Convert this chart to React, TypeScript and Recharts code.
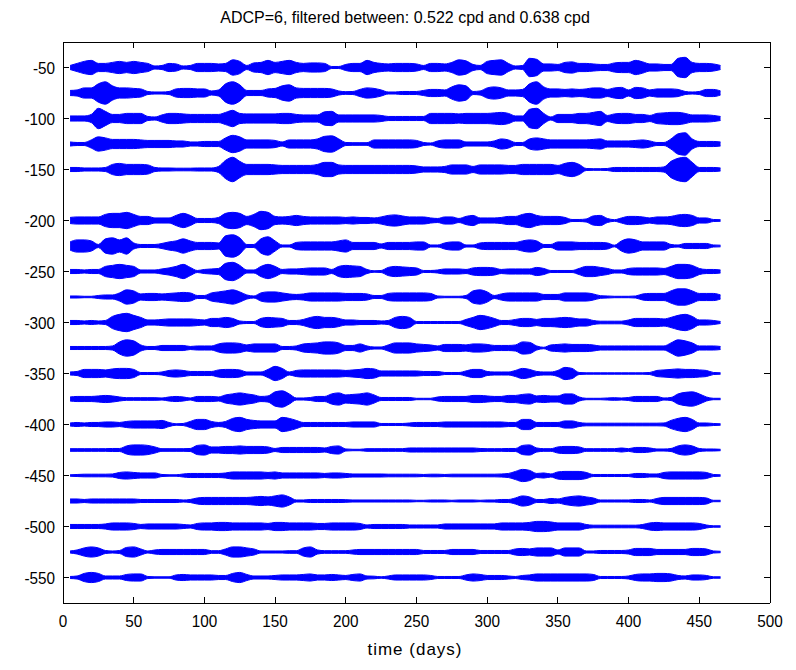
import React from 'react';
import { ComposedChart, Area, XAxis, YAxis } from 'recharts';

const TITLE = 'ADCP=6, filtered between: 0.522 cpd and 0.638 cpd';
const X_LABEL = 'time (days)';
const X_TICKS = [0, 50, 100, 150, 200, 250, 300, 350, 400, 450, 500];
const Y_TICKS = [-550, -500, -450, -400, -350, -300, -250, -200, -150, -100, -50];

// depth (m) of each filtered record, used as its vertical offset
const DEPTHS = [-50, -75, -100, -125, -150, -200, -225, -250, -275, -300, -325, -350, -375, -400, -425, -450, -475, -500, -525, -550];

// sampling grid of the envelope readings (days 5 ... 465)
const DAYS = Array.from({ length: 93 }, (_, i) => 5 + 5 * i);

// half-height of the oscillation envelope of each record
const AMP_50 = [2,4,6,7,4,4,5,6,5,6, 5,4,1.5,2,4,3.5,1.5,2,4,4, 4,3.5,4,7.5,6,2,4.5,5,7,5, 6,7,5,4,4.5,4.5,4,1,1,3, 4,4,7,5,4,3.5,4,4,4,3.5, 2,4,4,3.5,5,7.5,6.5,3,2,6, 7,7.5,4,1.5,2,9,8,3.5,3.5,3, 5,5.5,4,4,3.5,3,3,4.5,5,5, 7,5.5,3.5,3.5,3,3,9,10,5,4, 4,3.5,2];
const AMP_75 = [2.5,3,5,5,9,11,7,5,5,4.5, 4,1.5,1,1,1.5,4,4.5,4.5,4,4, 2,3,9,11,8,2.5,2.5,2.5,4,4.5, 7,8,5,4.5,4.5,4.5,4.5,4,2,1.3, 1.5,3.5,5,4.5,3,1,1,1.5,1.5,1.5, 2.5,3.5,3.5,3,6,8,7,1.5,2,5, 6,5,3,3,3.5,9,11,6,4,4, 3.5,4,3.5,4,5,5,3.5,5,5.5,3, 5.5,5,3,4,4,4,3.5,1.5,1,1.5, 3.5,3.5,2];
const AMP_100 = [2.5,2.5,2.5,4,10,7,4,4,5,5, 5,2,1.5,3.5,5,5,4.5,4,4,4, 4,4,6,8,5,4.5,4.5,4.5,4.5,4.5, 5,5,4,3.5,3.5,3.5,6.5,7,3.5,3.5, 3.5,3.5,3.5,3.5,3,2,2,2,2,2, 2,5,5,5,5,4.5,5,5,5,5, 5.5,6,5,2.5,2.5,9,10,5,1.5,4, 4,4,5,5,6,7,3,4.5,5,5, 4,4,3,5,5.5,6,6,5,3.5,3.5, 3.5,3,2];
const AMP_125 = [2,1.5,1.5,4,7,6,4.5,4.5,4.5,4.5, 4,3.5,3.5,3.5,3.5,3,3,2,2,2.5, 2.5,2.5,6,8.5,7,4,4,4,4,3.5, 2,4,4,4,4,5,7.5,8,5,1.5, 1.3,1.3,1.3,4,4,4,4,4,4,3.5, 1.5,1,3,4,4,4,2,2,2,2, 3,5,4,1.5,1.5,5,6,5,4,4, 4,4,4,4,4.5,5,3,3,3,3, 3.5,4,3,1.5,1.5,5,10,11,5,2.5, 2.5,2.5,2];
const AMP_150 = [2,2,1.5,1.5,1.5,2,5,6,5,5, 5,4.5,2,1.5,1.5,1.3,1.3,1.3,1.5,1.5, 1.5,3,9,12,8,5,5,5,5,4.5, 4,4,4,4,4,5,7,7,4.5,4, 4,4,4,4,4,4,4,4,4,3.5, 2.5,2.5,2.5,3,4.5,4.5,4.5,3,4.5,4.5, 4.5,4.5,4,4,5,5,5,5,5,4, 6,7,5,1,0.8,0.8,1,2,2,2, 2,2,2,2,2.5,8,11,12,7,2, 2,2,1.5];
const AMP_200 = [3,3.5,3.5,3.5,3.5,6,7,7,8,6, 4,4,2.5,2.5,2.5,5,7,5,2,2, 2,3,7,8,7,4,6,9,8,4, 3.5,4,5,4,3.5,3.5,3.5,3.5,3.5,3, 3.5,3,3,2.5,3.5,5,5.5,4.5,3.5,3.5, 3.5,2.5,2,3.5,3.5,2,4,5,2.5,2.5, 2.5,3,4,4,6,7,5,4,4,4, 3,1,1,1.5,4.5,5,2,0.8,2.5,4, 4,3.5,2.5,3.5,3.5,4,5.5,6,5,2.5, 2.5,1,0.8];
const AMP_225 = [4,6,6,5,1.5,7,8,6,8,3, 1.5,1.5,1.5,2.5,4,5,7,5,3.5,3.5, 3.5,3,10,11,8,1.5,1.5,7,9,5, 1,1,3.5,4,4,4,4,4,5,6, 3.5,3.5,3.5,3.5,2,3.5,3.5,3.5,3.5,4, 4,1,1,3,4,4,1,1,3,3.5, 3.5,3.5,3.5,3.5,5,6,5,1.5,1.5,4, 4,4,3.5,3.5,3.5,3.5,3,0.8,5,7, 6,4,4,4,4,1.5,1,2.5,2.5,2.5, 2.5,1,0.8];
const AMP_250 = [2,2,1.5,2,2,5,6,7,6,5, 1.5,1.5,1.5,2.5,3.5,5,7,4,1,2, 2.5,3,8,9,6,1.5,1.5,5,7,5, 2,2.5,2.5,3,3.5,3.5,3.5,2,5,6, 5.5,5,2,0.7,1,4,5,4.5,4,3.5, 1,1,1.5,2.5,2.5,2.5,2,3.5,4,4, 3.5,2,2.5,2.5,2.5,2.5,4,3,1,1, 1,1,3,5,5,4,3,1.5,1.5,3, 3.5,3.5,3.5,3.5,3,5,7,7,6,3, 2,2,1.5];
const AMP_275 = [1,1,0.7,0.7,1.5,2,2,4,7,6, 3,3.5,3.5,3,3.5,4,4.5,4,1.5,1.5, 4,5,6,7,5,2,1,4,5,5, 4,3,2.5,3,4,4,4,4,4,3.5, 3.5,3.5,3,1.5,1.5,3.5,4,4,4,4, 4,3.5,1,0.7,0.7,0.7,1.5,6,7,5, 1.5,3,4,4,4,4,4,2.5,2.5,2.5, 4,4,4,4,3,1.3,1,0.7,0.7,0.7, 1,3,3.5,3.5,3.5,6,8,8,6,3.5, 3.5,3.5,2];
const AMP_300 = [2,2,1.5,2,1.5,2,6,8,9,7, 5,2.5,2.5,3,3.5,3.5,3.5,3.5,3,2.5, 4,4,5,4,1.5,1,1,4,5,4.5, 4,2,2,3,5,6,5,5,4,2.5, 2.5,2,2,2,1.5,2,5,6,5,1, 1,1,1,1,1,1,3,5,7,6, 4,2,2,3,4,4,3,4,4,4.5, 5,4.5,3.5,3.5,2,1.3,1.3,1.3,1.3,2.5, 4,4,4,4,3.5,5,7,8,6,2.5, 2.5,2,1];
const AMP_325 = [1.5,1.5,1.5,1.5,1.5,1.5,2,6,8,7, 3,1.5,1.5,2.5,2.5,2.5,2.5,1.5,2,2, 2,4,5,5,4.5,3,4,4,4,4, 1.5,1.5,2,4,4.5,5,6,6,5,2.5, 2.5,4,2,1,1,3,5,5,5,4, 3.5,3,2,3.5,3.5,3.5,3,4,4,3.5, 2.5,2.5,2.5,3,6,5.5,2,0.7,3,3.5, 4,3.5,3.5,3.5,3,2,2,2,2,2, 2,2,2,2,2,5,8,7,5,2, 2,2,1.5];
const AMP_350 = [1.5,2,4,4,4,3.5,4.5,5,5,4, 1,1,1,1.5,3,3.5,3,2,2,2, 2,3.5,4,4,3.5,1.5,1.5,1.5,4,7, 5,1.5,3,3.5,3.5,3.5,3.5,3.5,3.5,3, 3.5,4,5,4.5,2.5,2.5,2.5,2.5,2.5,2.5, 2,2,2,1,1,1,2.5,4,4,2, 1.5,1.5,1.5,3,5,4,2,1.5,1.5,3, 6,5,1,0.7,0.7,0.7,0.7,0.7,0.7,0.7, 0.7,0.7,1,3,3.5,4,4.5,4,4,3.5, 3,1,0.7];
const AMP_375 = [2,2.5,2.5,2.5,3,3.5,3,2,1.3,1.3, 1.3,1.3,1.3,1,2,2.5,2,1,2.5,2.5, 2.5,2,4,5,6,5,4,2.5,3,7, 8,5,1,1,1.5,2.5,2.5,5,6,4, 4.5,5,6,4,1.5,1.5,1.5,1.5,1.5,0.7, 0.7,0.7,2,2.5,2.5,2.5,2.5,3.5,3.5,3, 2.5,2.5,3.5,3.5,4.5,5,3,3.5,3,3, 5,5,2,0.7,0.7,0.7,1,1.3,1,1.5, 2.5,2.5,2.5,2.5,1,1.5,5,6.5,7,5, 2,0.7,0.7];
const AMP_400 = [1.5,2,1.5,2,2,2.5,2.5,2,3,3.5, 3.5,3.5,3.5,4,2,0.7,1,3,5,5, 3,2,3,6,7,5,4,3.5,3.5,3.5, 7,6,4,2,2,2,2,2,2,2, 2.5,2.5,2.5,2.5,1,1,1,1,1.5,2, 2,2,2,2.5,2.5,2.5,2.5,2.5,2.5,2.5, 2.5,2.5,2,2,5,5,2,2,2,2, 3.5,3.5,2,1.3,1.3,1.3,1.3,1.3,1.3,1.3, 1.3,1.3,1.3,1.3,1.5,4,6,7,5,1.5, 1.5,1,0.7];
const AMP_425 = [1.3,1.3,1.3,1.3,1.3,1.3,1.5,1.5,4,5, 5,4.5,3,1.3,1.3,1.3,1.3,1.5,4.5,5, 3,3,3.5,3.5,4,3.5,3.5,3.5,3,1.5, 2.5,2.5,2.5,2.5,2.5,2.5,2,3.5,4,1, 0.7,0.7,1.3,1.3,1.3,1.3,1.3,1.3,2,2, 2,2,2,2,2,2,2,2,1.5,1.3, 1.3,1.3,1.5,1.5,4.5,5,2,1.3,1.3,3, 3.5,3.5,3,1.3,1.3,1.3,1.3,1.3,2,1.3, 2.5,2.5,2,1,1,1.5,4,5,4,1.5, 1,1,0.7];
const AMP_450 = [0.7,1,1.3,1.3,1.3,1.3,1.5,3,3.5,3, 2.5,2.5,2.5,1,0.7,0.7,1.5,2,2,2, 2,2,2.5,3.5,3.5,3.5,3.5,3.5,3,3.5, 2.5,2.5,2.5,2.5,2.5,2.5,2,2.5,2.5,2, 1.5,1.5,1.5,1.5,1.5,1.3,1.3,1.3,1.3,1.3, 1,1.3,1.3,1,1.3,1.3,1.3,1.3,1.3,1.3, 1.3,1.5,2,4,6,5,2,2.5,1.5,3.5, 4,4,4,3,1,1,1,1,1,1, 2,2,1.5,1.5,3,3.5,3.5,3.5,3.5,3.5, 3,1,0.7];
const AMP_475 = [2,2,1.5,2,2,2,2,2,2,2, 1.5,1.5,1.5,1.5,1.5,1.5,1,1.5,3,3.5, 3.5,3.5,3.5,3.5,3.5,3.5,4,4.5,4,5, 6,4,1,1,1.5,1.5,1.5,1.5,1.5,1.3, 1,1,1,1,1,1,1,1,1,0.7, 0.7,1,1,1,0.7,1,1,1,0.7,1, 1,1.5,1.5,3,5,4,1.5,1.5,2.5,2, 3.5,4.5,5,4,3,1,1,1,1,1, 1.5,1.5,1,2.5,3.5,3.5,3.5,3.5,3.5,3.5, 3,0.7,0.7];
const AMP_500 = [2,2,2,2,2,2.5,3.5,3.5,3.5,3, 2,2.5,2.5,2.5,2.5,2.5,2,1.5,3,3.5, 3.5,4,4,3.5,3.5,3.5,3.5,3.5,3,4, 4,3.5,3.5,3.5,3.5,3,3,3.5,3.5,3.5, 3.5,3,1.5,2,2,2,2,2,1.5,1.5, 1.5,1.5,1.5,2.5,2.5,2.5,2.5,2.5,2.5,2.5, 2.5,3.5,3.5,3.5,3.5,4,5,5,4.5,3.5, 3.5,3.5,3.5,2,1.3,1.3,1.3,1.3,1.3,1.3, 1.3,2,3.5,4,3.5,3.5,3.5,3.5,3.5,3, 1.5,0.7,0.7];
const AMP_525 = [1,2,4,5,4,1.5,1,1.5,4.5,5, 3,1,2,2.5,2.5,2.5,2.5,2.5,2.5,2.5, 1.3,1.3,3,5,5,4,3,1,1,1, 1,1.3,1.3,4,5,2,1.3,1.3,1.3,1.3, 2,2.5,2.5,2.5,2.5,2.5,2.5,2.5,2.5,2.5, 1.5,1.5,1.5,1.5,2.5,2.5,2.5,2.5,1.5,1.5, 1.5,1.5,1.5,3,3.5,3,4,4,4,2, 4,4,4,1,1,1.5,1.5,1.5,1.5,2, 3.5,3.5,3.5,2.5,2.5,2.5,2.5,2.5,3.5,3.5, 3,1,0.7];
const AMP_550 = [1,1.5,4,5,4,1.5,1.5,1.5,3,3.5, 3.5,1,0.7,0.7,0.7,2.5,3,2.5,2.5,2.5, 2.5,2,2,4,5,3,1.5,1.5,1.5,2, 2.5,2.5,2.5,3,3.5,2.5,2.5,3,2.5,2, 3,3.5,1.5,1.3,0.7,1.5,2.5,2.5,2.5,2.5, 2.5,2,1,1,1,1,2.5,3.5,3,2, 2,2,1.5,1,2,2.5,3.5,3.5,3.5,3.5, 3.5,3.5,3.5,3.5,3,1,1,1,1,1.5, 3,3.5,3.5,4,4,3.5,2,1.5,2.5,2.5, 2,0.7,0.7];

const AMPLITUDES = [AMP_50, AMP_75, AMP_100, AMP_125, AMP_150, AMP_200, AMP_225, AMP_250, AMP_275, AMP_300, AMP_325, AMP_350, AMP_375, AMP_400, AMP_425, AMP_450, AMP_475, AMP_500, AMP_525, AMP_550];

const FONT = '"Liberation Sans", Arial, sans-serif';
const BLUE = '#0000ff';
const NARROW = 0.9;

const rows = DAYS.map((day, i) => {
  const r: Record<string, any> = { day };
  DEPTHS.forEach((d, k) => {
    const a = AMPLITUDES[k][i];
    r['s' + k] = [d - a, d + a];
  });
  return r;
});

const LeftTick = (p: any) => (
  <g>
    <line x1={p.x} y1={p.y} x2={p.x + 6} y2={p.y} stroke="#000" shapeRendering="crispEdges" />
    <text transform={`translate(${p.x - 8},${p.y + 6}) scale(${NARROW},1)`} textAnchor="end" fontSize={17} fontFamily={FONT} fill="#000">{p.payload.value}</text>
  </g>
);
const RightTick = (p: any) => (
  <line x1={p.x - 6} y1={p.y} x2={p.x} y2={p.y} stroke="#000" shapeRendering="crispEdges" />
);
const BottomTick = (p: any) => (
  <g>
    <line x1={p.x} y1={p.y - 6} x2={p.x} y2={p.y} stroke="#000" shapeRendering="crispEdges" />
    <text transform={`translate(${p.x},${p.y + 24}) scale(${NARROW},1)`} textAnchor="middle" fontSize={17} fontFamily={FONT} fill="#000">{p.payload.value}</text>
  </g>
);
const TopTick = (p: any) => (
  <line x1={p.x} y1={p.y} x2={p.x} y2={p.y + 6} stroke="#000" shapeRendering="crispEdges" />
);

export default function App() {
  const axisLine = { stroke: '#000', shapeRendering: 'crispEdges' } as any;
  return (
    <div style={{ position: 'absolute', left: 0, top: 0, width: 796, height: 670, background: '#fff' }}>
      <ComposedChart width={796} height={670} data={rows} margin={{ top: 0, right: 0, bottom: 0, left: 0 }}>
        <XAxis xAxisId="b" orientation="bottom" type="number" dataKey="day" domain={[0, 500]} ticks={X_TICKS}
          interval={0} height={67} allowDataOverflow axisLine={axisLine} tickLine={false} tickSize={0} tickMargin={0} tick={BottomTick} />
        <XAxis xAxisId="t" orientation="top" type="number" dataKey="day" domain={[0, 500]} ticks={X_TICKS}
          interval={0} height={42} allowDataOverflow axisLine={axisLine} tickLine={false} tickSize={0} tickMargin={0} tick={TopTick} />
        <YAxis yAxisId="l" orientation="left" type="number" domain={[-575, -25]} ticks={Y_TICKS}
          interval={0} width={63} allowDataOverflow axisLine={axisLine} tickLine={false} tickSize={0} tickMargin={0} tick={LeftTick} />
        <YAxis yAxisId="r" orientation="right" type="number" domain={[-575, -25]} ticks={Y_TICKS}
          interval={0} width={26} allowDataOverflow axisLine={axisLine} tickLine={false} tickSize={0} tickMargin={0} tick={RightTick} />
        {DEPTHS.map((d, k) => (
          <Area key={d} xAxisId="b" yAxisId="l" type="monotone" dataKey={'s' + k}
            stroke={BLUE} strokeWidth={1} fill={BLUE} fillOpacity={1}
            dot={false} activeDot={false} isAnimationActive={false} />
        ))}
      </ComposedChart>
      <div style={{ position: 'absolute', left: 0, width: 810, top: 8, textAlign: 'center', fontFamily: FONT, fontSize: 16, lineHeight: '20px', color: '#000' }}>{TITLE}</div>
      <div style={{ position: 'absolute', left: 0, width: 830, top: 640, textAlign: 'center', fontFamily: FONT, fontSize: 17, letterSpacing: '1px', lineHeight: '20px', color: '#000' }}>{X_LABEL}</div>
    </div>
  );
}
